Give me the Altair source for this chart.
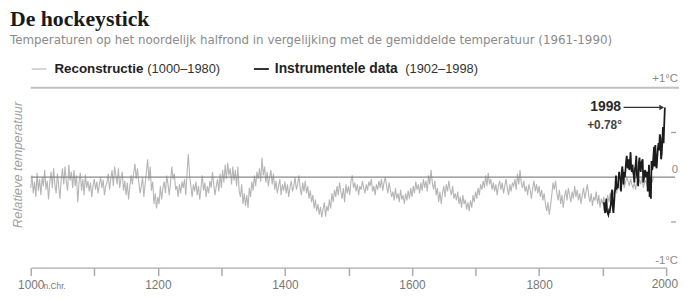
import altair as alt
import pandas as pd

# Reconstruction (1000-1980), every 2 years, five values per decade
recon_values = [
    -0.12, 0.02, -0.18, -0.05, -0.22,   # 1000s
    0.05, -0.15, -0.02, -0.20, 0.00,    # 1010s
    -0.10, 0.08, -0.14, -0.04, -0.25,   # 1020s
    -0.06, 0.06, -0.12, 0.10, -0.08,    # 1030s
    -0.18, 0.04, -0.10, -0.24, -0.02,   # 1040s
    0.10, -0.08, 0.12, -0.05, -0.15,    # 1050s
    0.14, -0.04, 0.06, -0.12, 0.08,     # 1060s
    -0.10, 0.02, -0.28, -0.06, 0.05,    # 1070s
    -0.15, -0.02, -0.20, 0.03, -0.12,   # 1080s
    -0.04, -0.16, -0.06, -0.22, -0.10,  # 1090s
    -0.02, -0.14, -0.05, -0.18, -0.08,  # 1100s
    0.00, -0.12, -0.03, -0.20, -0.10,   # 1110s
    -0.06, 0.04, -0.14, -0.02, 0.08,    # 1120s
    -0.10, 0.12, 0.02, -0.08, 0.10,     # 1130s
    -0.12, -0.02, 0.06, -0.15, -0.04,   # 1140s
    -0.20, -0.06, -0.25, -0.10, 0.02,   # 1150s
    -0.08, 0.05, 0.15, -0.02, 0.10,     # 1160s
    -0.05, -0.18, -0.10, 0.00, -0.22,   # 1170s
    -0.08, 0.06, 0.20, -0.04, 0.12,     # 1180s
    -0.15, -0.05, -0.30, -0.18, -0.35,  # 1190s
    -0.22, -0.30, -0.10, -0.25, -0.12,  # 1200s
    -0.05, -0.18, 0.02, -0.08, -0.20,   # 1210s
    -0.06, 0.12, -0.02, 0.04, -0.14,    # 1220s
    -0.10, -0.22, -0.08, -0.18, -0.05,  # 1230s
    -0.12, -0.02, -0.20, 0.05, 0.26,    # 1240s
    0.02, -0.10, -0.22, -0.08, -0.16,   # 1250s
    -0.05, -0.20, -0.10, -0.25, -0.12,  # 1260s
    0.02, -0.15, -0.06, -0.22, -0.10,   # 1270s
    -0.18, -0.04, -0.12, 0.06, -0.08,   # 1280s
    -0.20, -0.10, -0.02, -0.16, 0.04,   # 1290s
    -0.12, 0.08, -0.06, 0.14, -0.02,    # 1300s
    0.16, 0.02, 0.10, -0.08, 0.12,      # 1310s
    -0.04, 0.08, -0.10, 0.12, -0.15,    # 1320s
    -0.22, -0.08, -0.30, -0.18, -0.32,  # 1330s
    -0.20, -0.34, -0.12, -0.22, -0.05,  # 1340s
    -0.15, 0.02, -0.10, 0.06, -0.02,    # 1350s
    0.10, -0.05, 0.22, 0.02, 0.12,      # 1360s
    -0.06, 0.06, -0.10, 0.00, 0.08,     # 1370s
    -0.08, 0.04, -0.14, -0.04, -0.18,   # 1380s
    -0.10, -0.02, -0.20, -0.08, -0.15,  # 1390s
    -0.05, -0.18, -0.08, -0.22, -0.12,  # 1400s
    -0.04, -0.16, -0.10, 0.00, -0.14,   # 1410s
    -0.08, 0.02, -0.12, -0.20, -0.06,   # 1420s
    -0.16, -0.04, -0.18, -0.10, -0.24,  # 1430s
    -0.15, -0.28, -0.20, -0.35, -0.25,  # 1440s
    -0.38, -0.30, -0.42, -0.33, -0.45,  # 1450s
    -0.36, -0.28, -0.44, -0.32, -0.38,  # 1460s
    -0.25, -0.35, -0.18, -0.28, -0.14,  # 1470s
    -0.22, -0.10, -0.20, -0.06, -0.16,  # 1480s
    -0.24, -0.12, -0.28, -0.08, -0.18,  # 1490s
    -0.10, -0.20, -0.04, 0.02, -0.12,   # 1500s
    -0.06, -0.16, -0.08, -0.20, -0.10,  # 1510s
    -0.14, -0.04, -0.12, -0.18, -0.08,  # 1520s
    -0.15, -0.05, -0.10, -0.02, -0.16,  # 1530s
    -0.10, -0.20, -0.08, -0.14, -0.04,  # 1540s
    -0.12, -0.02, -0.15, -0.06, 0.00,   # 1550s
    -0.10, -0.18, -0.06, -0.14, -0.22,  # 1560s
    -0.16, -0.26, -0.12, -0.24, -0.18,  # 1570s
    -0.28, -0.14, -0.25, -0.20, -0.30,  # 1580s
    -0.18, -0.26, -0.15, -0.24, -0.12,  # 1590s
    -0.22, -0.10, -0.18, -0.05, -0.14,  # 1600s
    -0.08, -0.18, -0.06, -0.15, -0.02,  # 1610s
    -0.12, -0.04, -0.16, 0.02, -0.08,   # 1620s
    0.08, -0.06, -0.14, -0.04, -0.20,   # 1630s
    -0.12, -0.28, -0.16, -0.30, -0.18,  # 1640s
    -0.10, -0.22, -0.08, -0.16, -0.04,  # 1650s
    -0.14, -0.20, -0.10, -0.24, -0.18,  # 1660s
    -0.26, -0.16, -0.30, -0.22, -0.34,  # 1670s
    -0.20, -0.30, -0.25, -0.36, -0.28,  # 1680s
    -0.38, -0.26, -0.34, -0.20, -0.28,  # 1690s
    -0.16, -0.24, -0.12, -0.20, -0.08,  # 1700s
    -0.14, -0.04, -0.12, 0.02, -0.10,   # 1710s
    0.05, -0.08, -0.02, -0.14, -0.06,   # 1720s
    -0.16, -0.08, -0.20, -0.10, -0.04,  # 1730s
    -0.14, -0.06, -0.18, -0.10, -0.02,  # 1740s
    -0.12, -0.20, -0.08, -0.16, -0.06,  # 1750s
    -0.10, -0.02, -0.14, 0.04, -0.08,   # 1760s
    0.08, -0.06, -0.12, -0.04, -0.16,   # 1770s
    -0.10, -0.20, -0.08, -0.14, -0.24,  # 1780s
    -0.12, -0.04, -0.16, -0.08, -0.18,  # 1790s
    -0.10, -0.22, -0.14, -0.26, -0.18,  # 1800s
    -0.30, -0.38, -0.28, -0.42, -0.32,  # 1810s
    -0.20, -0.06, -0.14, -0.04, -0.18,  # 1820s
    -0.26, -0.14, -0.30, -0.20, -0.34,  # 1830s
    -0.22, -0.14, -0.26, -0.12, -0.20,  # 1840s
    -0.28, -0.16, -0.24, -0.10, -0.22,  # 1850s
    -0.14, -0.26, -0.18, -0.30, -0.20,  # 1860s
    -0.12, -0.24, -0.16, -0.08, -0.20,  # 1870s
    -0.28, -0.18, -0.32, -0.22, -0.26,  # 1880s
    -0.16, -0.30, -0.20, -0.34, -0.24,  # 1890s
    -0.30, -0.22, -0.35, -0.26, -0.20,  # 1900s
    -0.28, -0.18, -0.25, -0.14, -0.20,  # 1910s
    -0.12, -0.18, -0.08, -0.14, -0.06,  # 1920s
    -0.10, -0.02, -0.12, -0.06, 0.00,   # 1930s
    -0.04, -0.10, -0.02, -0.08, -0.12,  # 1940s
    -0.06, -0.14, -0.04, -0.10, -0.02,  # 1950s
    -0.08, 0.00, -0.12, -0.06, -0.04,   # 1960s
    -0.10, -0.02, -0.08, 0.02, -0.06,   # 1970s
    0.00,                               # 1980
]
recon_years = list(range(1000, 1981, 2))

# Instrumental data (1902-1998), annual
instr_years = list(range(1902, 1999))
instr_values = [
    -0.28, -0.36, -0.40, -0.30, -0.24, -0.38, -0.40, -0.42,              # 1902-1909
    -0.38, -0.40, -0.34, -0.30, -0.18, -0.14, -0.34, -0.40, -0.30, -0.18,  # 1910s
    -0.12, 0.02, -0.14, -0.08, -0.12, -0.02, 0.06, -0.02, 0.00, -0.16,   # 1920s
    0.06, 0.12, 0.04, -0.08, 0.06, 0.00, 0.08, 0.18, 0.24, 0.12,         # 1930s
    0.10, 0.20, 0.08, 0.16, 0.28, 0.10, 0.06, 0.14, 0.06, 0.02,          # 1940s
    -0.06, 0.10, 0.14, 0.24, 0.02, -0.02, -0.10, 0.16, 0.22, 0.12,       # 1950s
    0.06, 0.16, 0.18, 0.20, -0.06, -0.02, 0.06, 0.08, 0.00, 0.04,        # 1960s
    0.06, -0.16, -0.04, 0.14, -0.22, 0.00, -0.24, 0.18, 0.08, 0.12,      # 1970s
    0.24, 0.34, 0.12, 0.36, 0.14, 0.10, 0.22, 0.32, 0.38, 0.30,          # 1980s
    0.48, 0.44, 0.20, 0.26, 0.40, 0.56, 0.38, 0.60, 0.78,                # 1990-1998
]

x_ticks = [1000, 1100, 1200, 1300, 1400, 1500, 1600, 1700, 1800, 1900, 2000]
half_levels = [0.5, -0.5]
peak_year = 1998
peak_value = 0.78

FONT = "Liberation Sans"
GRAY_TXT = "#8a8a8a"
W, H = 643, 181
LAB_TOP = H + 1 + 8 + 4  # axis offset + tick size + label padding

recon_df = pd.DataFrame({"year": recon_years, "value": recon_values})
instr_df = pd.DataFrame({"year": instr_years, "value": instr_values})

xscale = alt.Scale(domain=[1000, 2000], nice=False, zero=False)
yscale = alt.Scale(domain=[-1, 1], nice=False, zero=False)

x_axis = alt.Axis(
    values=x_ticks, format="d", title=None, grid=False,
    labelExpr="(datum.value % 200 == 0 && datum.value < 2000) ? datum.label : ''",
    domainColor="#aaaaaa", domainWidth=1.5, tickColor="#aaaaaa", tickWidth=1.5,
    tickSize=8, labelColor="#777777", labelFont=FONT, labelFontSize=12,
    labelPadding=4, labelFlush=False, offset=1, labelBaseline="top",
)


def Y(field):
    return alt.Y(field, scale=yscale, axis=None)


def X(field):
    return alt.X(field, scale=xscale, axis=x_axis)


recon = alt.Chart(recon_df).mark_line(color="#b5b5b5", strokeWidth=1.1).encode(
    x=X("year:Q"), y=Y("value:Q"),
)
instr = alt.Chart(instr_df).mark_line(color="#1c1c1c", strokeWidth=1.8).encode(
    x=X("year:Q"), y=Y("value:Q"),
)

top_line = alt.Chart(pd.DataFrame({"v": [1.0]})).mark_rule(
    color="#c0c0c0", strokeWidth=2).encode(
    y=Y("v:Q"), x=alt.value(0), x2=alt.value(W + 13))
zero_line = alt.Chart(pd.DataFrame({"v": [0.0]})).mark_rule(
    color="#888888", strokeWidth=1.3).encode(
    y=Y("v:Q"), x=alt.value(0), x2=alt.value(W + 9))
half_ticks = alt.Chart(pd.DataFrame({"v": half_levels})).mark_rule(
    color="#999999", strokeWidth=1.2).encode(
    y=Y("v:Q"), x=alt.value(W + 5), x2=alt.value(W + 10))


def txt(s, x, y, size=12, color="#333333", weight="normal", align="left",
        font=FONT, style="normal", angle=0, baseline="middle"):
    kw = dict(fontSize=size, color=color, fontWeight=weight, align=align,
              font=font, fontStyle=style, baseline=baseline)
    if angle:
        kw["angle"] = angle
    return alt.Chart(pd.DataFrame({"t": [s]})).mark_text(**kw).encode(
        x=alt.value(x), y=alt.value(y), text="t:N")


def hline(x1, x2, y, color, width):
    return alt.Chart(pd.DataFrame({"k": [0]})).mark_rule(
        color=color, strokeWidth=width).encode(
        x=alt.value(x1), x2=alt.value(x2), y=alt.value(y))


title = txt("De hockeystick", -21, -63, size=22, color="#1a1a1a", weight="bold",
            font="Liberation Serif", baseline="alphabetic")
subtitle = txt("Temperaturen op het noordelijk halfrond in vergelijking met de gemiddelde temperatuur (1961-1990)",
               -21, -48, size=12, color=GRAY_TXT, font="DejaVu Sans")

leg_recon_line = hline(1, 16, -19, "#c8c8c8", 1.5)
leg_instr_line = hline(226, 241, -19, "#1c1c1c", 1.8)
leg1a = txt("Reconstructie", 24, -19, size=13.5, weight="bold", color="#222222")
leg1b = txt("(1000–1980)", 118, -19, size=13, color="#333333")
leg2a = txt("Instrumentele data", 247, -19, size=14, weight="bold", color="#222222")
leg2b = txt("(1902–1998)", 379, -19, size=13, color="#333333")

lab_p1 = txt("+1°C", W + 12, -9, size=11.5, color=GRAY_TXT, align="right")
lab_0 = txt("0", W + 12, 83, size=11.5, color=GRAY_TXT, align="right")
lab_m1 = txt("-1°C", W + 12, 175, size=11.5, color=GRAY_TXT, align="right")
lab_2000 = txt("2000", W + 12, LAB_TOP, size=12, color="#777777", align="right",
               baseline="top")
nchr = txt("n.Chr.", 13, LAB_TOP + 10, size=8.5, color="#777777",
           baseline="alphabetic")

ytitle = txt("Relatieve temperatuur", -13, 78, size=13, color="#a0a0a0",
             style="italic", align="center", angle=270)

ann_df = pd.DataFrame({
    "x1": [1933], "x2": [1991], "xh": [1993], "xt": [1929], "xv": [1903],
    "y": [peak_value], "yv": [0.58],
    "t": [str(peak_year)], "tv": ["+0.78°"],
})
arrow = alt.Chart(ann_df).mark_rule(color="#333333", strokeWidth=1.2).encode(
    x=X("x1:Q"), x2="x2:Q", y=Y("y:Q"))
arrow_head = alt.Chart(ann_df).mark_point(
    shape="triangle-right", filled=True, color="#333333", size=30, opacity=1).encode(
    x=X("xh:Q"), y=Y("y:Q"))
ann_year = alt.Chart(ann_df).mark_text(
    align="right", baseline="middle", fontSize=14, fontWeight="bold",
    font=FONT, color="#2a2a2a").encode(
    x=X("xt:Q"), y=Y("y:Q"), text="t:N")
ann_val = alt.Chart(ann_df).mark_text(
    align="center", baseline="middle", fontSize=12, fontWeight="bold",
    font=FONT, color="#444444").encode(
    x=X("xv:Q"), y=Y("yv:Q"), text="tv:N")

chart = alt.layer(
    recon, top_line, half_ticks, zero_line, instr,
    arrow, arrow_head, ann_year, ann_val,
    title, subtitle, leg_recon_line, leg_instr_line, leg1a, leg1b, leg2a, leg2b,
    lab_p1, lab_0, lab_m1, lab_2000, nchr, ytitle,
).properties(
    width=W, height=H,
    padding={"left": 23, "top": 79, "right": 13, "bottom": 30},
    autosize=alt.AutoSizeParams(type="none"),
    background="white",
).configure_view(strokeWidth=0, stroke=None)

chart.save("out.html", embed_options={"renderer": "svg", "actions": False})
